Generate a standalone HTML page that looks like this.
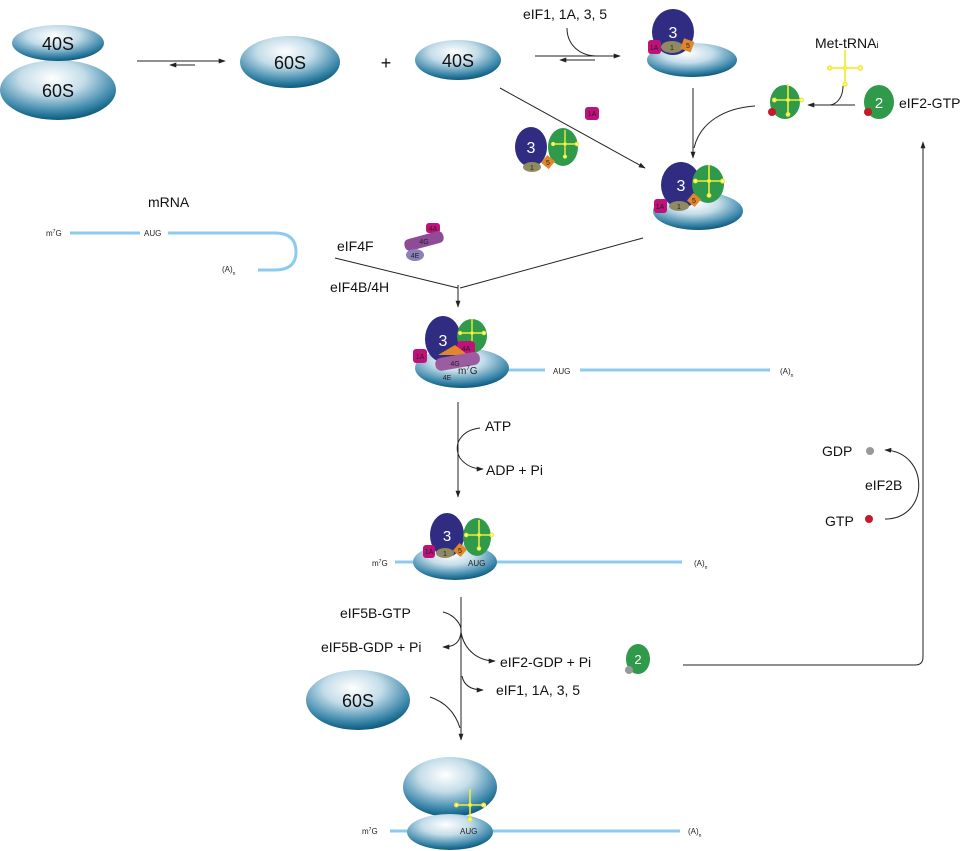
<!DOCTYPE html>
<html><head><meta charset="utf-8"><style>
html,body{margin:0;padding:0;background:#fff;}
svg{display:block;font-family:"Liberation Sans","DejaVu Sans",sans-serif;}
</style></head><body>
<svg width="960" height="851" viewBox="0 0 960 851" xmlns="http://www.w3.org/2000/svg">
<defs>
<radialGradient id="rb" cx="0.45" cy="0.3" r="0.7">
<stop offset="0" stop-color="#ffffff"/><stop offset="0.4" stop-color="#c4dde9"/><stop offset="0.8" stop-color="#3d88ab"/><stop offset="1" stop-color="#0c5a7d"/>
</radialGradient>
<marker id="ah" viewBox="0 0 10 10" refX="9" refY="5" markerWidth="7" markerHeight="7" orient="auto-start-reverse"><path d="M0,1.5 L10,5 L0,8.5 Z" fill="#222"/></marker>
<g id="trna" stroke="#f2ec3a" stroke-width="2" fill="none">
<line x1="-16" y1="0" x2="16" y2="0"/><line x1="0" y1="-20" x2="0" y2="17"/>
<circle cx="-17" cy="0" r="2" fill="#fff"/><circle cx="17" cy="0" r="2.2" fill="#fff"/><circle cx="0" cy="18" r="2" fill="#fff"/><circle cx="0" cy="0" r="1.5" fill="#fff"/>
</g>
</defs>
<g stroke="#222" stroke-width="1" fill="none">
<line x1="137" y1="61" x2="225" y2="61" marker-end="url(#ah)"/>
<line x1="195" y1="65" x2="170" y2="65" marker-end="url(#ah)"/>
<line x1="535" y1="56" x2="620" y2="56" marker-end="url(#ah)"/>
<line x1="595" y1="60" x2="560" y2="60" marker-end="url(#ah)"/>
<path d="M567,28 C567,45 580,56 597,56"/>
<line x1="693" y1="88" x2="693" y2="158" marker-end="url(#ah)"/>
<path d="M755,106 C725,108 700,122 694,148"/>
<line x1="855" y1="105" x2="808" y2="105" marker-end="url(#ah)"/>
<path d="M843,86 C843,96 838,104 830,105"/>
<line x1="500" y1="88" x2="645" y2="168" marker-end="url(#ah)"/>
<path d="M683,665 L915,665 Q923,665 923,657 L923,142" marker-end="url(#ah)"/>
<line x1="643" y1="238" x2="460" y2="288"/>
<line x1="335" y1="258" x2="458" y2="288"/>
<line x1="458" y1="285" x2="458" y2="307" marker-end="url(#ah)"/>
<line x1="458" y1="402" x2="458" y2="497" marker-end="url(#ah)"/>
<path d="M480,428 C462,430 452,444 460,458 C466,466 474,469 483,469" marker-end="url(#ah)"/>
<line x1="461" y1="597" x2="461" y2="740" marker-end="url(#ah)"/>
<path d="M443,612 C455,615 462,625 461,632 C460,642 455,647 443,647" marker-end="url(#ah)"/>
<path d="M461,632 C464,650 478,661 495,661" marker-end="url(#ah)"/>
<path d="M462,676 C464,686 472,690 483,690" marker-end="url(#ah)"/>
<path d="M430,697 C445,702 455,712 460,728"/>
<path d="M885,519 C930,519 930,452 885,450" marker-end="url(#ah)"/>
</g>
<g stroke="#8ccbef" stroke-width="3" fill="none">
<line x1="70" y1="233" x2="140" y2="233"/>
<path d="M168,233 L275,233 Q296,233 296,252 Q296,270 275,270 L258,270"/>
<line x1="505" y1="370" x2="545" y2="370"/><line x1="580" y1="370" x2="770" y2="370"/>
<line x1="395" y1="562" x2="466" y2="562"/><line x1="492" y1="562" x2="682" y2="562"/>
<line x1="390" y1="831" x2="456" y2="831"/><line x1="486" y1="831" x2="680" y2="831"/>
</g>
<g fill="url(#rb)">
<ellipse cx="58" cy="90" rx="58" ry="30"/>
<ellipse cx="58" cy="43" rx="46" ry="18"/>
<ellipse cx="290" cy="62" rx="50" ry="26"/>
<ellipse cx="458" cy="60" rx="43" ry="20"/>
<ellipse cx="692" cy="60" rx="45" ry="17"/>
<ellipse cx="698" cy="211" rx="45" ry="19"/>
<ellipse cx="462" cy="368" rx="47" ry="20"/>
<ellipse cx="455" cy="562" rx="42" ry="18"/>
<ellipse cx="358" cy="700" rx="52" ry="30"/>
<ellipse cx="450" cy="787" rx="47" ry="30"/>
<ellipse cx="450" cy="832" rx="43" ry="18"/>
</g>
<g font-size="18" text-anchor="middle" fill="#111">
<text x="58" y="50">40S</text><text x="58" y="97">60S</text>
<text x="290" y="69">60S</text><text x="458" y="67">40S</text>
<text x="386" y="69">+</text><text x="358" y="707">60S</text>
</g>
<ellipse cx="673" cy="32" rx="21" ry="23" fill="#2f2c82"/>
<rect x="648" y="40" width="13" height="14" rx="3" fill="#c0117a"/>
<ellipse cx="672" cy="47" rx="11" ry="6" fill="#8f8a60"/>
<rect x="682" y="40" width="11" height="11" fill="#e2862a" transform="rotate(20 688 45)"/>
<ellipse cx="785" cy="102" rx="15" ry="17" fill="#2f9a4a"/>
<circle cx="772" cy="112" r="4" fill="#c8192b"/>
<use href="#trna" transform="translate(788,100) scale(0.8)"/>
<use href="#trna" transform="translate(845,68) scale(0.9)"/>
<ellipse cx="879" cy="102" rx="15" ry="17" fill="#2f9a4a"/>
<circle cx="868" cy="112" r="4" fill="#c8192b"/>
<rect x="585" y="107" width="14" height="13" rx="3" fill="#c0117a"/>
<ellipse cx="531" cy="147" rx="16" ry="20" fill="#2f2c82"/>
<ellipse cx="563" cy="147" rx="15" ry="19" fill="#2f9a4a"/>
<use href="#trna" transform="translate(565,144) scale(0.7)"/>
<ellipse cx="532" cy="167" rx="9" ry="5" fill="#8f8a60"/>
<rect x="543" y="157" width="10" height="10" fill="#e2862a" transform="rotate(40 548 162)"/>
<ellipse cx="681" cy="185" rx="20" ry="23" fill="#2f2c82"/>
<ellipse cx="708" cy="184" rx="16" ry="19" fill="#2f9a4a"/>
<use href="#trna" transform="translate(709,181) scale(0.8)"/>
<rect x="654" y="199" width="13" height="14" rx="3" fill="#c0117a"/>
<ellipse cx="679" cy="206" rx="10" ry="5" fill="#8f8a60"/>
<rect x="689" y="195" width="10" height="10" fill="#e2862a" transform="rotate(40 694 200)"/>
<rect x="426" y="223" width="14" height="10" rx="3" fill="#c0117a"/>
<rect x="404" y="235" width="40" height="12" rx="5" fill="#8e4b96" transform="rotate(-15 424 241)"/>
<ellipse cx="415" cy="255" rx="9" ry="6" fill="#8a82b8"/>
<ellipse cx="443" cy="339" rx="18" ry="23" fill="#2f2c82"/>
<ellipse cx="472" cy="336" rx="15" ry="17" fill="#2f9a4a"/>
<use href="#trna" transform="translate(472,333) scale(0.7)"/>
<rect x="413" y="349" width="14" height="14" rx="3" fill="#c0117a"/>
<rect x="457" y="341" width="18" height="14" rx="4" fill="#c0117a"/>
<path d="M438,355 L455,345 L468,355 Z" fill="#e2862a"/>
<rect x="435" y="355" width="45" height="13" rx="6" fill="#9b5ca0" transform="rotate(-10 457 361)"/>
<ellipse cx="447" cy="535" rx="17" ry="22" fill="#2f2c82"/>
<ellipse cx="477" cy="537" rx="14" ry="19" fill="#2f9a4a"/>
<use href="#trna" transform="translate(479,535) scale(0.75)"/>
<rect x="423" y="545" width="12" height="13" rx="3" fill="#c0117a"/>
<ellipse cx="445" cy="553" rx="9" ry="5" fill="#8f8a60"/>
<rect x="455" y="545" width="10" height="10" fill="#e2862a" transform="rotate(40 460 550)"/>
<ellipse cx="638" cy="659" rx="12" ry="15" fill="#2f9a4a"/>
<circle cx="629" cy="670" r="4" fill="#999"/>
<use href="#trna" transform="translate(470,805) scale(0.8)"/>
<circle cx="870" cy="451" r="4" fill="#999"/>
<circle cx="869" cy="519" r="4" fill="#c8192b"/>
<g fill="#fff" text-anchor="middle">
<text x="673" y="38" font-size="16">3</text><text x="681" y="191" font-size="16">3</text>
<text x="531" y="153" font-size="16">3</text><text x="443" y="346" font-size="16">3</text>
<text x="447" y="541" font-size="15">3</text>
<text x="879" y="108" font-size="15">2</text><text x="638" y="664" font-size="13">2</text>
</g>
<g font-size="7" text-anchor="middle" fill="#222">
<text x="654" y="50">1A</text><text x="672" y="50">1</text><text x="688" y="48">5</text>
<text x="592" y="116">1A</text><text x="532" y="170">1</text><text x="548" y="165">5</text>
<text x="660" y="209">1A</text><text x="679" y="209">1</text><text x="694" y="203">5</text>
<text x="433" y="231">4A</text><text x="424" y="244">4G</text><text x="415" y="258">4E</text>
<text x="420" y="359">1A</text><text x="466" y="351">4A</text><text x="455" y="366">4G</text><text x="447" y="380">4E</text>
<text x="429" y="554">1A</text><text x="445" y="556">1</text><text x="460" y="553">5</text>
</g>
<g font-size="8" fill="#222">
<text x="46" y="236">m<tspan font-size="5" dy="-3">7</tspan><tspan dy="3">G</tspan></text>
<text x="144" y="236">AUG</text>
<text x="222" y="272">(A)<tspan font-size="5" dy="3">n</tspan></text>
<text x="458" y="374" font-size="10">m<tspan font-size="6" dy="-4">7</tspan><tspan dy="4">G</tspan></text>
<text x="553" y="374">AUG</text><text x="780" y="374">(A)<tspan font-size="5" dy="3">n</tspan></text>
<text x="372" y="566">m<tspan font-size="5" dy="-3">7</tspan><tspan dy="3">G</tspan></text>
<text x="468" y="566">AUG</text><text x="694" y="566">(A)<tspan font-size="5" dy="3">n</tspan></text>
<text x="362" y="834">m<tspan font-size="5" dy="-3">7</tspan><tspan dy="3">G</tspan></text>
<text x="460" y="834">AUG</text><text x="688" y="834">(A)<tspan font-size="5" dy="3">n</tspan></text>
</g>
<g font-size="14" fill="#111">
<text x="523" y="19">eIF1, 1A, 3, 5</text>
<text x="815" y="48">Met-tRNA<tspan font-size="9">i</tspan></text>
<text x="899" y="108">eIF2-GTP</text>
<text x="148" y="207">mRNA</text>
<text x="337" y="251">eIF4F</text>
<text x="330" y="292">eIF4B/4H</text>
<text x="485" y="431">ATP</text>
<text x="486" y="475">ADP + Pi</text>
<text x="340" y="618">eIF5B-GTP</text>
<text x="321" y="652">eIF5B-GDP + Pi</text>
<text x="500" y="667">eIF2-GDP + Pi</text>
<text x="496" y="695">eIF1, 1A, 3, 5</text>
<text x="822" y="456">GDP</text>
<text x="865" y="490">eIF2B</text>
<text x="825" y="526">GTP</text>
</g>
</svg>
</body></html>
